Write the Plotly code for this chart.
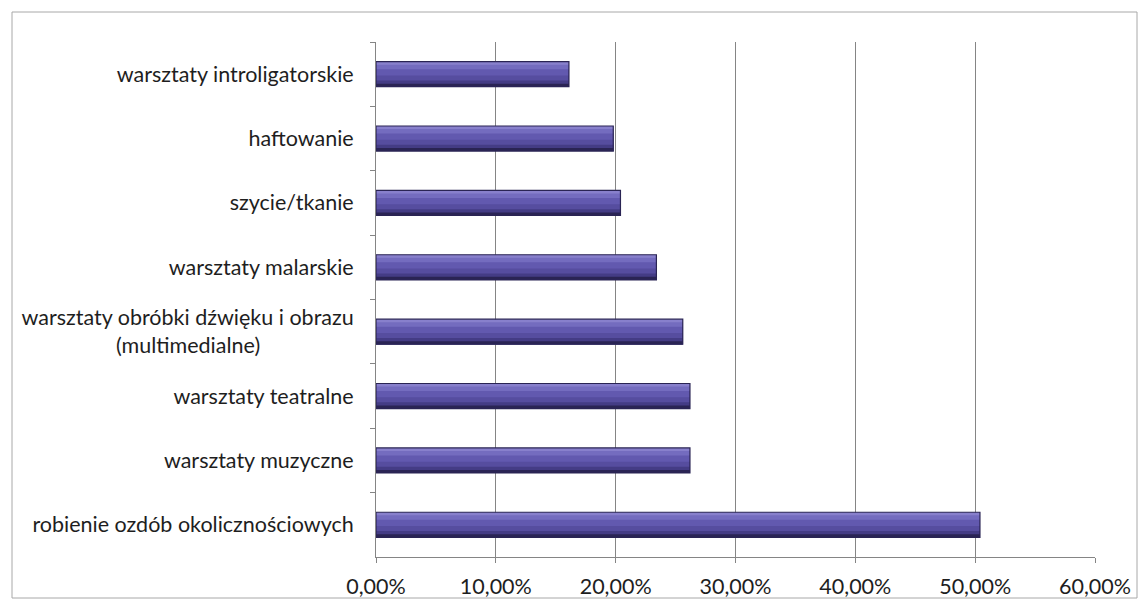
import plotly.graph_objects as go

categories = [
    "warsztaty introligatorskie",
    "haftowanie",
    "szycie/tkanie",
    "warsztaty malarskie",
    "warsztaty obróbki dźwięku i obrazu<br>(multimedialne)" + "\u00a0" * 17,
    "warsztaty teatralne",
    "warsztaty muzyczne",
    "robienie ozdób okolicznościowych",
]
values = [0.161, 0.198, 0.204, 0.234, 0.256, 0.262, 0.262, 0.504]
x_ticks = [0, 0.1, 0.2, 0.3, 0.4, 0.5, 0.6]

# page is rendered with an 8px body margin, so compensate
OFF = 8
W, H = 1147 - OFF, 610 - OFF
L, R, T, B = 376 - OFF, 1095 - OFF, 42 - OFF, 557 - OFF

BAR_W = 0.39
bands = [  # (top fraction, colour) - each band runs down to the bar bottom
    (0.00, "#8880CC"),
    (0.12, "#746CBF"),
    (0.30, "#6259AF"),
    (0.55, "#564D9F"),
    (0.75, "#443C85"),
    (0.88, "#2A2454"),
]

fig = go.Figure()
for f0, col in bands:
    fig.add_trace(go.Bar(
        x=values, y=categories, orientation="h",
        width=(1 - f0) * BAR_W, offset=-BAR_W / 2 + f0 * BAR_W,
        marker=dict(color=col, line=dict(width=0)),
        hoverinfo="skip",
    ))
fig.add_trace(go.Bar(
    x=values, y=categories, orientation="h",
    width=BAR_W, offset=-BAR_W / 2,
    marker=dict(color="rgba(0,0,0,0)", line=dict(color="#2A2454", width=1.2)),
    hoverinfo="x+y",
))

pw, ph = R - L, B - T
def px(x): return (x - OFF - L) / pw
def py(y): return (B - (y - OFF)) / ph

FS = 21.5
fig.update_layout(
    width=W, height=H,
    margin=dict(l=L, r=W - R, t=T, b=H - B, pad=0),
    paper_bgcolor="white", plot_bgcolor="white",
    separators=", ",
    showlegend=False,
    barmode="overlay",
    font=dict(family="Lato", size=FS, color="#1E1E1E"),
    xaxis=dict(
        range=[0, 0.6], tickvals=x_ticks, tickformat=".2%",
        showgrid=True, gridcolor="#858585", gridwidth=1,
        showline=True, linecolor="#858585", linewidth=1,
        ticks="outside", ticklen=5, tickcolor="#858585",
        ticklabelstandoff=5, zeroline=False,
        tickfont=dict(family="Lato", size=FS, color="#1E1E1E"),
    ),
    yaxis=dict(
        autorange="reversed", type="category",
        showline=True, linecolor="#858585", linewidth=1,
        ticks="outside", ticklen=5, tickcolor="#858585",
        tickson="boundaries", showgrid=False,
        ticklabelstandoff=17,
        tickfont=dict(family="Lato", size=FS, color="#1E1E1E"),
    ),
    shapes=[dict(
        type="rect", xref="paper", yref="paper",
        x0=px(12), x1=px(1137), y0=py(598), y1=py(12),
        line=dict(color="#A8A8A8", width=1), fillcolor="rgba(0,0,0,0)",
        layer="below",
    )],
)

fig.write_html("out.html")
